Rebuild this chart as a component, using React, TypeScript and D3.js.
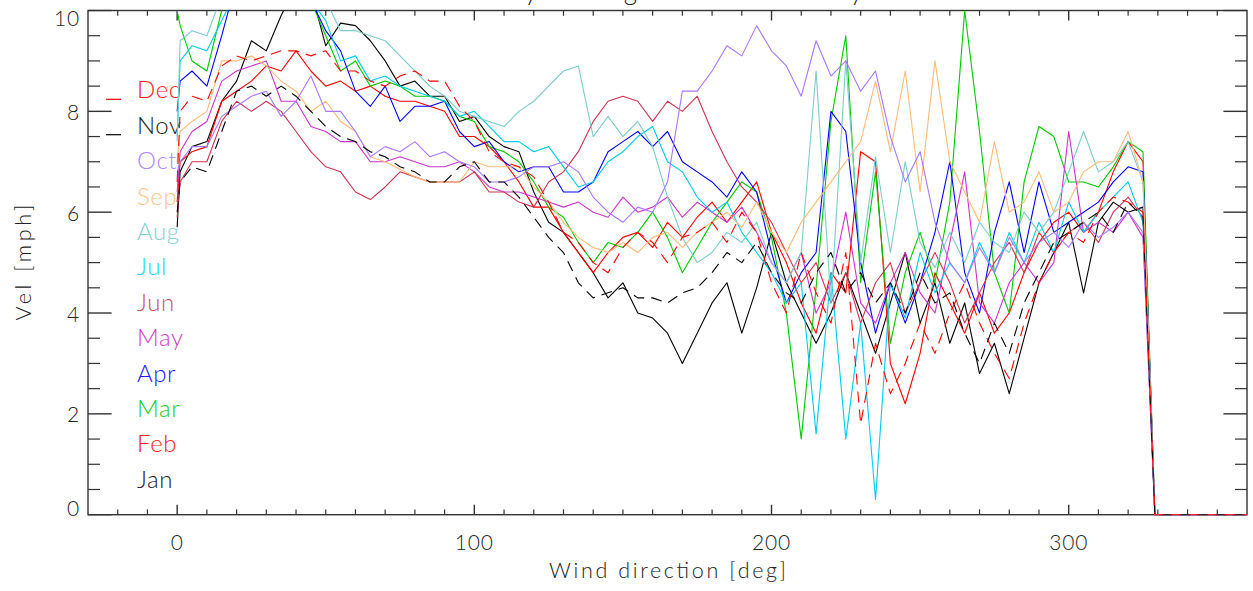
import React from 'react';
import * as d3 from 'd3';

const directions = [0, 1,
  5, 10, 15, 20, 25, 30, 35, 40, 45, 50,
  55, 60, 65, 70, 75, 80, 85, 90, 95, 100,
  105, 110, 115, 120, 125, 130, 135, 140, 145, 150,
  155, 160, 165, 170, 175, 180, 185, 190, 195, 200,
  205, 210, 215, 220, 225, 230, 235, 240, 245, 250,
  255, 260, 265, 270, 275, 280, 285, 290, 295, 300,
  305, 310, 315, 320, 325,
  329, 360];

const monthNames = ['Jan', 'Feb', 'Mar', 'Apr', 'May', 'Jun', 'Jul', 'Aug', 'Sep', 'Oct', 'Nov', 'Dec'];
const monthColors = ['#000000', '#ff0000', '#00c800', '#0000ff', '#cc33cc', '#cc3350', '#00ccee', '#7ccccc', '#ffbb77', '#aa77ff', '#000000', '#ff0000'];
const legendTextColors = ['#222222', '#ff2222', '#22cc22', '#1a1aff', '#d040c8', '#d05062', '#22d8ee', '#88d0d0', '#ffc488', '#b088ff', '#222222', '#ff2222'];
const dashedMonths = ['Nov', 'Dec'];

const jan = [5.7, 6.8,
  7.3, 7.4, 8.2, 8.6, 9.4, 9.2, 9.9, 10.5, 10.4, 9.3,
  9.75, 9.7, 9.4, 9.0, 8.5, 8.6, 8.3, 8.3, 7.8, 7.9,
  7.5, 7.3, 7.2, 6.4, 5.8, 5.6, 5.2, 4.8, 4.3, 4.6,
  4.0, 3.9, 3.6, 3.0, 3.6, 4.2, 4.6, 3.6, 4.5, 5.6,
  4.6, 4.0, 3.4, 4.0, 4.8, 4.0, 3.2, 4.2, 5.2, 3.8,
  4.6, 3.4, 4.2, 2.8, 3.4, 2.4, 3.5, 4.6, 5.2, 5.8,
  4.4, 5.8, 6.2, 6.0, 6.1,
  0, 0];

const feb = [6.2, 7.0,
  7.2, 7.3, 8.2, 8.4, 8.6, 8.9, 8.8, 9.2, 8.8, 8.5,
  8.6, 8.4, 8.5, 8.3, 8.2, 8.2, 8.1, 8.0, 7.5, 7.5,
  7.3, 7.0, 6.6, 6.1, 6.1, 5.6, 5.2, 4.8, 5.2, 5.5,
  5.6, 5.3, 5.8, 5.5, 5.9, 6.2, 5.8, 6.2, 6.6, 5.6,
  5.0, 4.2, 3.6, 4.8, 4.4, 7.2, 7.0, 3.0, 2.2, 3.2,
  4.8, 4.2, 3.6, 4.4, 3.6, 4.0, 4.8, 5.4, 5.8, 6.0,
  5.6, 6.0, 6.8, 7.4, 7.0,
  0, 0];

const mar = [10.0, 9.7,
  9.0, 8.8, 10.0, 10.6, 10.8, 10.8, 10.4, 10.6, 10.2, 9.5,
  8.8, 9.0, 8.5, 8.6, 8.5, 8.3, 8.3, 8.2, 7.9, 7.8,
  7.3, 7.2, 7.0, 6.6, 6.1, 5.9, 5.4, 5.0, 5.4, 5.3,
  5.6, 6.0, 5.5, 4.8, 5.3, 5.8, 6.2, 6.6, 6.4, 5.5,
  4.0, 1.5, 4.5, 7.8, 9.5, 4.6, 6.8, 3.4, 4.8, 5.6,
  4.6, 6.2, 10.0, 7.6, 4.8, 4.0, 6.6, 7.7, 7.5, 6.6,
  6.6, 6.5, 6.9, 7.4, 7.2,
  0, 0];

const apr = [8.0, 8.6,
  8.8, 8.5, 9.5, 10.6, 10.8, 10.6, 10.4, 10.6, 10.2, 9.6,
  9.2, 8.4, 8.1, 8.5, 7.8, 8.1, 8.1, 8.2, 7.6, 7.3,
  7.4, 7.0, 6.8, 6.9, 6.9, 6.4, 6.4, 6.6, 7.2, 7.4,
  7.6, 7.3, 7.6, 7.0, 6.8, 6.6, 6.3, 6.8, 6.4, 5.2,
  4.2, 4.8, 5.2, 8.0, 7.6, 5.0, 3.6, 4.6, 3.8, 4.6,
  5.6, 7.0, 4.8, 4.0, 5.6, 6.6, 5.2, 6.6, 5.6, 5.8,
  6.0, 6.2, 6.6, 6.9, 6.8,
  0, 0];

const may = [6.4, 7.2,
  7.6, 7.8, 8.6, 8.8, 8.9, 9.0, 8.2, 8.2, 7.7, 7.6,
  7.4, 7.4, 7.0, 7.0, 7.1, 7.0, 6.9, 6.9, 7.0, 6.8,
  6.5, 6.4, 6.4, 6.3, 6.2, 6.1, 6.2, 6.0, 5.9, 6.3,
  6.0, 6.1, 6.3, 5.9, 6.2, 6.0, 5.8, 6.1, 5.6, 5.0,
  4.6, 5.2, 4.0, 4.6, 6.0, 4.2, 3.8, 4.6, 5.2, 4.4,
  4.0, 5.4, 6.8, 4.2, 3.8, 4.6, 5.0, 4.6, 5.0, 7.6,
  5.6, 5.8, 5.6, 6.0, 5.5,
  0, 0];

const jun = [5.9, 6.6,
  7.0, 7.0, 7.8, 8.2, 8.0, 8.2, 8.0, 7.6, 7.2, 6.9,
  6.8, 6.4, 6.25, 6.5, 6.8, 6.7, 6.6, 6.6, 6.6, 6.8,
  6.4, 6.4, 6.2, 6.1, 6.6, 6.8, 7.2, 7.8, 8.2, 8.3,
  8.2, 7.8, 8.2, 8.0, 8.3, 7.6, 7.0, 6.5, 6.2, 5.8,
  5.2, 4.6, 5.0, 4.2, 4.8, 3.8, 4.6, 5.0, 4.0, 4.6,
  5.2, 4.6, 3.8, 4.4, 5.0, 5.4, 4.8, 5.6, 5.2, 5.6,
  5.8, 5.4, 6.0, 6.3, 5.9,
  0, 0];

const jul = [7.5, 9.0,
  9.3, 9.2, 9.8, 10.4, 10.6, 10.8, 10.8, 10.4, 10.2, 9.8,
  9.0, 9.1, 8.6, 8.7, 8.5, 8.4, 8.3, 8.2, 7.9, 8.0,
  7.7, 7.4, 7.4, 7.2, 7.3, 6.9, 6.5, 6.6, 7.0, 7.2,
  7.5, 7.7, 7.0, 6.8, 6.3, 6.0, 6.2, 5.6, 5.2, 4.8,
  4.2, 4.6, 1.6, 4.8, 1.5, 3.8, 0.3, 4.6, 3.9, 5.2,
  4.4, 5.0, 4.6, 5.4, 4.8, 5.6, 5.0, 5.8, 5.2, 6.2,
  5.6, 6.0, 6.3, 6.6, 5.8,
  0, 0];

const aug = [7.4, 9.4,
  9.6, 9.5, 10.3, 10.8, 11.0, 11.0, 10.8, 10.5, 10.4, 10.2,
  9.6, 9.6, 9.5, 9.4, 9.1, 8.8, 8.5, 8.3, 8.0, 7.9,
  7.8, 7.7, 8.0, 8.2, 8.5, 8.8, 8.9, 7.5, 7.9, 7.5,
  7.8, 7.3, 6.3, 5.5, 5.0, 5.2, 5.6, 5.4, 5.8, 5.0,
  4.6, 5.2, 8.8, 4.2, 9.0, 5.0, 7.1, 5.2, 7.0, 5.4,
  4.9, 5.6, 5.0, 5.8, 5.4, 5.2, 6.0, 5.6, 6.0, 6.8,
  7.6, 6.8, 7.0, 7.4, 6.6,
  0, 0];

const sep = [7.0, 7.6,
  7.8, 8.0, 9.0, 9.0, 9.1, 8.9, 8.6, 8.4, 8.0, 8.2,
  7.8, 7.6, 7.1, 7.0, 6.85, 6.7, 6.6, 6.6, 6.6, 7.0,
  6.9, 6.9, 6.9, 6.5, 6.2, 5.8, 5.5, 5.3, 5.2, 5.4,
  5.2, 5.5, 5.6, 5.3, 5.6, 5.8, 6.0, 5.7, 6.2, 5.6,
  5.2, 5.8, 6.2, 6.6, 7.0, 7.4, 8.6, 7.2, 8.8, 6.4,
  9.0, 7.0, 6.4, 5.8, 7.4, 6.0, 6.2, 6.8, 6.0, 6.2,
  6.8, 7.0, 7.0, 7.6, 6.6,
  0, 0];

const oct = [6.8, 7.0,
  7.3, 7.3, 7.9, 8.1, 8.3, 8.4, 7.9, 8.2, 8.7, 8.0,
  8.0, 7.6, 7.1, 7.3, 7.2, 7.4, 7.1, 7.2, 7.0, 6.9,
  6.6, 6.6, 6.7, 6.9, 6.9, 7.0, 6.8, 6.3, 6.0, 5.8,
  6.1, 6.0, 6.6, 8.4, 8.4, 8.8, 9.3, 9.1, 9.7, 9.2,
  8.9, 8.3, 9.4, 8.7, 9.0, 8.4, 8.8, 7.5, 6.6, 7.2,
  5.8, 5.0, 4.6, 5.3, 4.8, 5.5, 5.0, 5.4, 5.6, 5.3,
  5.8, 5.5, 5.7, 6.0, 5.6,
  0, 0];

const nov = [6.0, 6.6,
  6.9, 6.8, 7.6, 8.4, 8.5, 8.3, 8.5, 8.3, 8.0, 7.7,
  7.5, 7.4, 7.2, 7.1, 6.9, 6.8, 6.6, 6.6, 6.9, 7.0,
  6.6, 6.6, 6.3, 5.9, 5.5, 5.2, 4.6, 4.3, 4.4, 4.5,
  4.3, 4.3, 4.2, 4.4, 4.5, 4.8, 5.2, 5.0, 5.4, 4.8,
  4.4, 4.2, 4.8, 5.2, 4.4, 4.8, 4.2, 4.6, 4.0, 4.8,
  4.2, 4.4, 3.6, 3.0, 3.8, 3.2, 4.2, 4.8, 5.4, 5.6,
  5.8, 6.0, 5.6, 6.2, 5.9,
  0, 0];

const dec = [6.6, 8.0,
  8.3, 8.2, 8.9, 9.1, 9.0, 9.1, 9.2, 9.2, 9.1, 9.2,
  8.8, 8.8, 8.6, 8.5, 8.7, 8.8, 8.6, 8.6, 8.1, 7.8,
  7.2, 7.0, 6.9, 6.7, 6.2, 5.6, 5.4, 5.0, 4.8, 5.3,
  5.6, 5.4, 5.0, 5.5, 5.6, 5.8, 5.4, 6.0, 5.6, 4.6,
  4.0, 5.2, 4.4, 3.8, 5.2, 1.8, 3.4, 2.4, 3.0, 3.8,
  3.2, 4.0, 4.6, 3.8, 3.2, 2.7, 3.8, 4.6, 5.2, 5.6,
  5.4, 6.0, 6.3, 6.2, 6.0,
  0, 0];

const seriesValues = [jan, feb, mar, apr, may, jun, jul, aug, sep, oct, nov, dec];
const legendOrder = ['Dec', 'Nov', 'Oct', 'Sep', 'Aug', 'Jul', 'Jun', 'May', 'Apr', 'Mar', 'Feb', 'Jan'];

const xMajorTicks = [0, 100, 200, 300];
const yMajorTicks = [0, 2, 4, 6, 8, 10];
const titleText = 'Monthly averaged wind velocity';
const xTitle = 'Wind direction [deg]';
const yTitle = 'Vel [mph]';

const W = 1253;
const H = 591;
const L = 88;
const R = 1247;
const T = 10.5;
const B = 514.7;
const FONT = "Lato, 'DejaVu Sans', sans-serif";
const AXIS = '#333333';

export default function App() {
  const x = d3.scaleLinear().domain([-30, 360]).range([L, R]);
  const y = d3.scaleLinear().domain([0, 10]).range([B, T]);
  const line = d3.line<[number, number]>().x(d => x(d[0])).y(d => y(d[1]));

  const xMinor = d3.range(-20, 360, 10).filter(v => !xMajorTicks.includes(v));
  const yMinor = d3.range(0.5, 10, 0.5).filter(v => !yMajorTicks.includes(v));

  const legendY0 = 98.3;
  const legendStep = 35.4;

  return (
    <svg width={W} height={H} style={{ position: 'absolute', left: 0, top: 0, background: '#fff' }}
      fontFamily={FONT}>
      <defs>
        <clipPath id="plotclip">
          <rect x={L} y={T} width={R - L} height={B - T + 1} />
        </clipPath>
      </defs>
      <rect x={0} y={0} width={W} height={H} fill="#fff" />

      {/* title (mostly above the visible area, as in the reference) */}
      <text x={427} y={0} fontSize={26} fontWeight={300} fill="#222" textLength={436} lengthAdjust="spacing">{titleText}</text>

      {/* legend */}
      {legendOrder.map((m, i) => {
        const idx = monthNames.indexOf(m);
        const yy = legendY0 + i * legendStep;
        return (
          <g key={m}>
            {dashedMonths.includes(m) && (
              <line x1={106} x2={121} y1={yy + 1} y2={yy + 1} stroke={monthColors[idx]} strokeWidth={1.2} />
            )}
            <text x={137} y={yy} fontSize={24} fontWeight={300} fill={legendTextColors[idx]} letterSpacing={0.6}>{m}</text>
          </g>
        );
      })}

      {/* frame */}
      <rect x={L} y={T} width={R - L} height={B - T} fill="none" stroke={AXIS} strokeWidth={1.4} />

      {/* x ticks */}
      {xMajorTicks.map(v => (
        <g key={'xm' + v}>
          <line x1={x(v)} x2={x(v)} y1={B} y2={B - 10} stroke={AXIS} strokeWidth={1.4} />
          <line x1={x(v)} x2={x(v)} y1={T} y2={T + 10} stroke={AXIS} strokeWidth={1.4} />
          <text x={x(v)} y={550} fontSize={21} fontWeight={300} fill="#222" textAnchor="middle" letterSpacing={0.8}>{v}</text>
        </g>
      ))}
      {xMinor.map(v => (
        <g key={'xn' + v}>
          <line x1={x(v)} x2={x(v)} y1={B} y2={B - 5.3} stroke={AXIS} strokeWidth={1.2} />
          <line x1={x(v)} x2={x(v)} y1={T} y2={T + 5.3} stroke={AXIS} strokeWidth={1.2} />
        </g>
      ))}

      {/* y ticks */}
      {yMajorTicks.map(v => (
        <g key={'ym' + v}>
          <line x1={L} x2={L + 23.6} y1={y(v)} y2={y(v)} stroke={AXIS} strokeWidth={1.4} />
          <line x1={R} x2={R - 23.6} y1={y(v)} y2={y(v)} stroke={AXIS} strokeWidth={1.4} />
          <text x={80} y={y(v) + (v === 0 ? 1.5 : v === 10 ? 15.7 : 8.5)} fontSize={21} fontWeight={300} fill="#222" textAnchor="end" letterSpacing={0.8}>{v}</text>
        </g>
      ))}
      {yMinor.map(v => (
        <g key={'yn' + v}>
          <line x1={L} x2={L + 12} y1={y(v)} y2={y(v)} stroke={AXIS} strokeWidth={1.2} />
          <line x1={R} x2={R - 12} y1={y(v)} y2={y(v)} stroke={AXIS} strokeWidth={1.2} />
        </g>
      ))}

      {/* series, drawn over the frame as in the reference */}
      <g clipPath="url(#plotclip)">
        {seriesValues.map((vals, i) => {
          const pts = directions.map((d, j) => [d, vals[j]] as [number, number]);
          return (
            <path key={monthNames[i]} d={line(pts) || ''} fill="none" stroke={monthColors[i]}
              strokeWidth={1.1} strokeDasharray={dashedMonths.includes(monthNames[i]) ? '11 7' : undefined}
              strokeLinejoin="round" />
          );
        })}
      </g>

      {/* axis titles */}
      <text x={(L + R) / 2} y={578} fontSize={21.5} fontWeight={300} fill="#222" textAnchor="middle" textLength={237} lengthAdjust="spacing">{xTitle}</text>
      <text transform={`translate(31, ${(T + B) / 2}) rotate(-90)`} fontSize={21.5} fontWeight={300} fill="#222" textAnchor="middle" textLength={116} lengthAdjust="spacing">{yTitle}</text>
    </svg>
  );
}
